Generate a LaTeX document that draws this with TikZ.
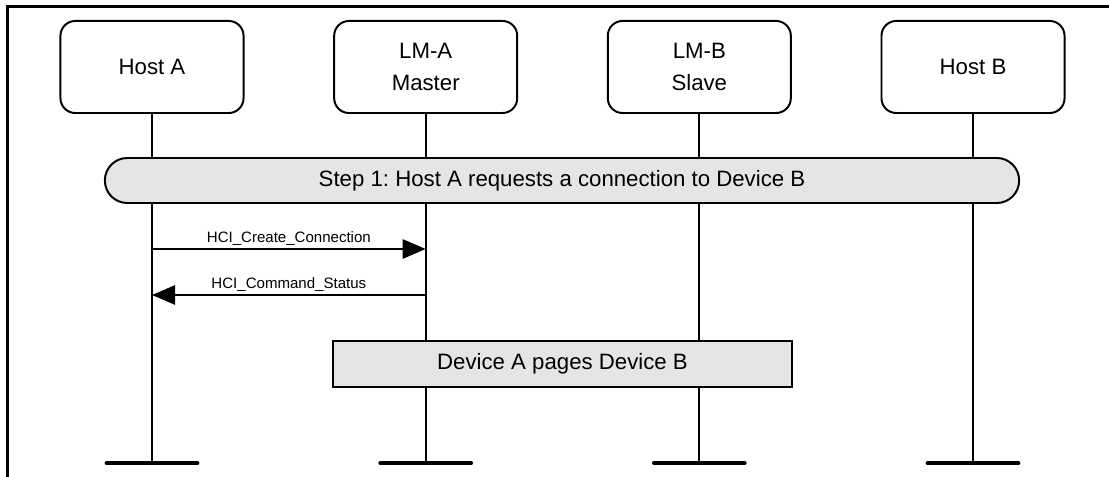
\documentclass[tikz,border=0pt]{standalone}
\usepackage{fontspec}
\setmainfont{Liberation Sans}
\usepackage{tikz}
\usetikzlibrary{arrows.meta,positioning,calc}
\frenchspacing
\tikzset{
  mscEntity/.style={draw=black, fill=white, rounded corners=10.5pt, line width=1.4pt,
    minimum width=4.575cm, minimum height=2.3cm,
    font=\fontsize{15.8}{22.6}\selectfont, align=center},
  mscStep/.style={draw=black, fill=gray!20, rounded corners=15.9pt, line width=1.4pt,
    minimum width=22.85cm, minimum height=1.125cm,
    font=\fontsize{15.8}{19}\selectfont, align=center},
  mscAction/.style={draw=black, fill=gray!20, line width=1.4pt,
    minimum width=11.475cm, minimum height=1.15cm,
    font=\fontsize{15.8}{19}\selectfont, align=center},
  %% Lifelines and their ends
  mscline/.style={line width=1.4pt},
  mscend/.style={line width=3.4pt, line cap=round},
  %% Message arrows
  mscmsg/.style={-{Triangle[length=16.4pt, width=13.7pt]}, line width=1.4pt},
  msclabel/.style={font=\fontsize{10.7}{12}\selectfont, above, inner sep=2pt},
}

\begin{document}
\begin{tikzpicture}[x=0.025cm, y=-0.025cm]
\useasboundingbox (0,0) rectangle (1109,477);

%% Frame
\draw[line width=1.8pt] (7.5,477) -- (7.5,6.5) -- (1109,6.5);

%% Participants
\node[mscEntity] (pHostA) at (152.0,67) {Host A};
\node[mscEntity] (pLMA)   at (425.7,67) {LM-A\\Master};
\node[mscEntity] (pLMB)   at (699.3,67) {LM-B\\Slave};
\node[mscEntity] (pHostB) at (973.0,67) {Host B};

%% Lifelines
\coordinate (lifeEnd) at (0,463);
\foreach \p in {pHostA,pLMA,pLMB,pHostB}{
  \draw[mscline] (\p.south) -- (\p |- lifeEnd);
  \draw[mscend] ($(\p |- lifeEnd)+(-45,0)$) -- ($(\p |- lifeEnd)+(45,0)$);
}

%% Step and action boxes
\node[mscStep]   (step1) at (562,180.5) {Step 1: Host A requests a connection to Device B};
\node[mscAction] (paging) at (562.5,364) {Device A pages Device B};

%% Messages
\coordinate (m1) at (0,249);
\coordinate (m2) at (0,295);
\draw[mscmsg] (pHostA |- m1) -- node[msclabel]{HCI\_Create\_Connection} (pLMA |- m1);
\draw[mscmsg] (pLMA |- m2) -- node[msclabel]{HCI\_Command\_Status} (pHostA |- m2);

\end{tikzpicture}
\end{document}
